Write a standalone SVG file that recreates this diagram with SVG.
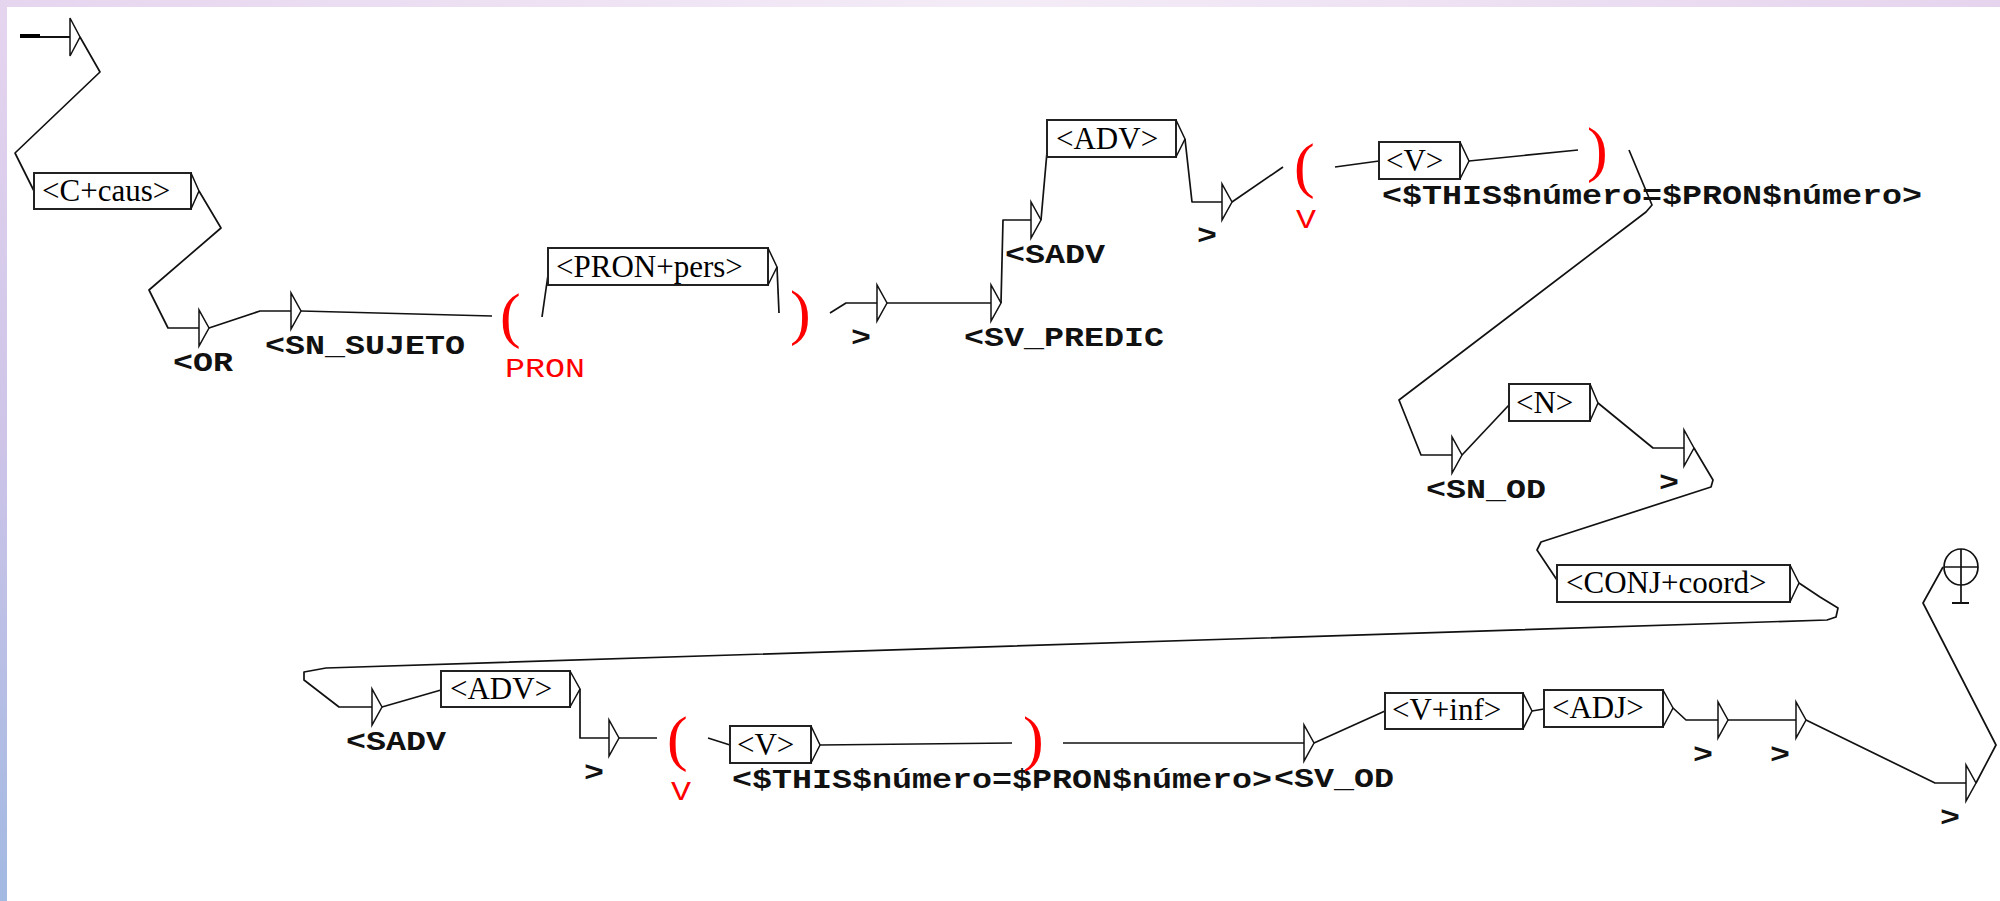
<svg xmlns="http://www.w3.org/2000/svg" width="2000" height="901" viewBox="0 0 2000 901">
<defs>
<linearGradient id="gTop" x1="0" y1="0" x2="1" y2="0">
<stop offset="0" stop-color="#e6d5ef"/>
<stop offset="0.5" stop-color="#f4ecf7"/>
<stop offset="1" stop-color="#e6d4ee"/>
</linearGradient>
<linearGradient id="gLeft" x1="0" y1="0" x2="0" y2="1">
<stop offset="0" stop-color="#e6d5ef"/>
<stop offset="0.5" stop-color="#cdc4e8"/>
<stop offset="1" stop-color="#a2b9e2"/>
</linearGradient>
<style>
.box{fill:#fff;stroke:#222;stroke-width:2}
.tri{fill:none;stroke:#111;stroke-width:1.5;stroke-linejoin:miter}
.edge{fill:none;stroke:#111;stroke-width:1.7;stroke-linejoin:round}
.lbl{font-family:"Liberation Serif","Times New Roman",serif;font-size:31px;fill:#000}
.out{font-family:"Liberation Mono","Courier New",monospace;font-weight:bold;font-size:27px;fill:#111}
.red{fill:#ff0000;font-weight:normal}
.paren{font-family:"Liberation Serif","Times New Roman",serif;font-size:62px;fill:#ff0000}
</style>
</defs>
<rect x="0" y="0" width="2000" height="901" fill="#ffffff"/>
<rect x="0" y="0" width="2000" height="7" fill="url(#gTop)"/>
<rect x="0" y="0" width="7" height="901" fill="url(#gLeft)"/>

<g id="connectors">
<polyline class="edge" points="80,37 100,72 15,153 34,191"/>
<polyline class="edge" points="199,191 221,228 149,290 168,328 199,328"/>
<polyline class="edge" points="209,328 260,311 291,311"/>
<polyline class="edge" points="301,311 492,316"/>
<polyline class="edge" points="542,317 548,275"/>
<polyline class="edge" points="777,267 779,313"/>
<polyline class="edge" points="830,313 846,303 877,303"/>
<polyline class="edge" points="887,303 991,303"/>
<polyline class="edge" points="1001,303 1003,220 1031,220"/>
<polyline class="edge" points="1041,220 1047,152"/>
<polyline class="edge" points="1185,139 1192,202 1222,202"/>
<polyline class="edge" points="1232,202 1283,167"/>
<polyline class="edge" points="1335,167 1379,161"/>
<polyline class="edge" points="1469,161 1578,150"/>
<polyline class="edge" points="1629,150 1652,205 1646,212 1399,400 1421,455 1452,455"/>
<polyline class="edge" points="1462,455 1509,405"/>
<polyline class="edge" points="1598,403 1653,448 1684,448"/>
<polyline class="edge" points="1694,448 1713,480 1711,487 1541,542 1537,550 1557,580"/>
<polyline class="edge" points="1799,583 1820,597 1838,608 1836,617 1827,620 326,668 304,672 304,680 339,707 372,707"/>
<polyline class="edge" points="382,707 441,690"/>
<polyline class="edge" points="580,689 580,738 609,738"/>
<polyline class="edge" points="619,738 657,738"/>
<polyline class="edge" points="708,738 730,745"/>
<polyline class="edge" points="820,745 1012,743"/>
<polyline class="edge" points="1063,743 1304,743"/>
<polyline class="edge" points="1314,743 1385,711"/>
<polyline class="edge" points="1532,711 1544,709"/>
<polyline class="edge" points="1673,708 1686,720 1718,720"/>
<polyline class="edge" points="1728,720 1796,720"/>
<polyline class="edge" points="1806,720 1935,783 1966,783"/>
<polyline class="edge" points="1976,783 1996,745 1923,603 1943,567"/>
</g>

<g id="start">
<line x1="20" y1="37" x2="70" y2="37" stroke="#111" stroke-width="2"/>
<line x1="20" y1="36" x2="40" y2="36" stroke="#000" stroke-width="4"/>
<path class="tri" d="M70,18 L70,56 L80,37 Z"/>
</g>

<g id="n-ccaus">
<rect class="box" x="34" y="173" width="157" height="36"/>
<path class="tri" d="M191,173 L199,191 L191,209"/>
<text class="lbl" x="42" y="201">&lt;C+caus&gt;</text>
</g>

<g id="n-or">
<path class="tri" d="M199,310 L199,346 L209,328 Z"/>
<text class="out" x="173" y="371" textLength="60" lengthAdjust="spacingAndGlyphs">&lt;OR</text>
</g>

<g id="n-snsujeto">
<path class="tri" d="M291,293 L291,329 L301,311 Z"/>
<text class="out" x="265" y="354" textLength="200" lengthAdjust="spacingAndGlyphs">&lt;SN_SUJETO</text>
</g>

<g id="n-paren1">
<text class="paren" x="500" y="336">(</text>
<text class="out red" x="505" y="377" textLength="80" lengthAdjust="spacingAndGlyphs">PRON</text>
</g>

<g id="n-pronpers">
<rect class="box" x="548" y="248" width="220" height="37"/>
<path class="tri" d="M768,248 L777,267 L768,285"/>
<text class="lbl" x="556" y="277">&lt;PRON+pers&gt;</text>
</g>

<g id="n-paren2">
<text class="paren" x="790" y="333">)</text>
</g>

<g id="n-close1">
<path class="tri" d="M877,285 L877,321 L887,303 Z"/>
<text class="out" x="851" y="346" textLength="20" lengthAdjust="spacingAndGlyphs">&gt;</text>
</g>

<g id="n-svpredic">
<path class="tri" d="M991,285 L991,321 L1001,303 Z"/>
<text class="out" x="964" y="346" textLength="200" lengthAdjust="spacingAndGlyphs">&lt;SV_PREDIC</text>
</g>

<g id="n-sadv1">
<path class="tri" d="M1031,202 L1031,238 L1041,220 Z"/>
<text class="out" x="1005" y="263" textLength="100" lengthAdjust="spacingAndGlyphs">&lt;SADV</text>
</g>

<g id="n-adv1">
<rect class="box" x="1047" y="120" width="129" height="37"/>
<path class="tri" d="M1176,120 L1185,139 L1176,157"/>
<text class="lbl" x="1056" y="149">&lt;ADV&gt;</text>
</g>

<g id="n-close2">
<path class="tri" d="M1222,184 L1222,220 L1232,202 Z"/>
<text class="out" x="1197" y="244" textLength="20" lengthAdjust="spacingAndGlyphs">&gt;</text>
</g>

<g id="n-paren3">
<text class="paren" x="1294" y="186">(</text>
<text class="out red" x="1296" y="228" textLength="20" lengthAdjust="spacingAndGlyphs">V</text>
</g>

<g id="n-v1">
<rect class="box" x="1379" y="142" width="81" height="37"/>
<path class="tri" d="M1460,142 L1469,161 L1460,179"/>
<text class="lbl" x="1386" y="171">&lt;V&gt;</text>
<text class="out" x="1382" y="204" textLength="540" lengthAdjust="spacingAndGlyphs">&lt;$THIS$número=$PRON$número&gt;</text>
</g>

<g id="n-paren4">
<text class="paren" x="1587" y="170">)</text>
</g>

<g id="n-snod">
<path class="tri" d="M1452,437 L1452,473 L1462,455 Z"/>
<text class="out" x="1426" y="498" textLength="120" lengthAdjust="spacingAndGlyphs">&lt;SN_OD</text>
</g>

<g id="n-n">
<rect class="box" x="1509" y="384" width="81" height="37"/>
<path class="tri" d="M1590,384 L1598,403 L1590,421"/>
<text class="lbl" x="1516" y="413">&lt;N&gt;</text>
</g>

<g id="n-close3">
<path class="tri" d="M1684,430 L1684,466 L1694,448 Z"/>
<text class="out" x="1659" y="491" textLength="20" lengthAdjust="spacingAndGlyphs">&gt;</text>
</g>

<g id="n-conj">
<rect class="box" x="1557" y="565" width="233" height="37"/>
<path class="tri" d="M1790,565 L1799,583 L1790,602"/>
<text class="lbl" x="1566" y="593">&lt;CONJ+coord&gt;</text>
</g>

<g id="n-sadv2">
<path class="tri" d="M372,689 L372,725 L382,707 Z"/>
<text class="out" x="346" y="750" textLength="100" lengthAdjust="spacingAndGlyphs">&lt;SADV</text>
</g>

<g id="n-adv2">
<rect class="box" x="441" y="671" width="129" height="36"/>
<path class="tri" d="M570,671 L580,689 L570,707"/>
<text class="lbl" x="450" y="699">&lt;ADV&gt;</text>
</g>

<g id="n-close4">
<path class="tri" d="M609,720 L609,756 L619,738 Z"/>
<text class="out" x="584" y="781" textLength="20" lengthAdjust="spacingAndGlyphs">&gt;</text>
</g>

<g id="n-paren5">
<text class="paren" x="667" y="759">(</text>
<text class="out red" x="671" y="800" textLength="20" lengthAdjust="spacingAndGlyphs">V</text>
</g>

<g id="n-v2">
<rect class="box" x="730" y="726" width="81" height="37"/>
<path class="tri" d="M811,726 L820,745 L811,763"/>
<text class="lbl" x="737" y="755">&lt;V&gt;</text>
<text class="out" x="732" y="788" textLength="540" lengthAdjust="spacingAndGlyphs">&lt;$THIS$número=$PRON$número&gt;</text>
</g>

<g id="n-paren6">
<text class="paren" x="1023" y="759">)</text>
</g>

<g id="n-svod">
<path class="tri" d="M1304,725 L1304,761 L1314,743 Z"/>
<text class="out" x="1274" y="787" textLength="120" lengthAdjust="spacingAndGlyphs">&lt;SV_OD</text>
</g>

<g id="n-vinf">
<rect class="box" x="1385" y="693" width="138" height="36"/>
<path class="tri" d="M1523,693 L1532,711 L1523,729"/>
<text class="lbl" x="1392" y="720">&lt;V+inf&gt;</text>
</g>

<g id="n-adj">
<rect class="box" x="1544" y="690" width="119" height="37"/>
<path class="tri" d="M1663,690 L1673,708 L1663,727"/>
<text class="lbl" x="1552" y="718">&lt;ADJ&gt;</text>
</g>

<g id="n-close5">
<path class="tri" d="M1718,702 L1718,738 L1728,720 Z"/>
<text class="out" x="1693" y="763" textLength="20" lengthAdjust="spacingAndGlyphs">&gt;</text>
</g>

<g id="n-close6">
<path class="tri" d="M1796,702 L1796,738 L1806,720 Z"/>
<text class="out" x="1770" y="763" textLength="20" lengthAdjust="spacingAndGlyphs">&gt;</text>
</g>

<g id="n-close7">
<path class="tri" d="M1966,765 L1966,801 L1976,783 Z"/>
<text class="out" x="1940" y="826" textLength="20" lengthAdjust="spacingAndGlyphs">&gt;</text>
</g>

<g id="final">
<ellipse cx="1961" cy="567" rx="17" ry="18" fill="none" stroke="#111" stroke-width="1.7"/>
<line x1="1944" y1="567" x2="1978" y2="567" stroke="#111" stroke-width="1.7"/>
<line x1="1961" y1="549" x2="1961" y2="603" stroke="#111" stroke-width="1.7"/>
<line x1="1952" y1="603" x2="1969" y2="603" stroke="#111" stroke-width="2"/>
</g>
</svg>
